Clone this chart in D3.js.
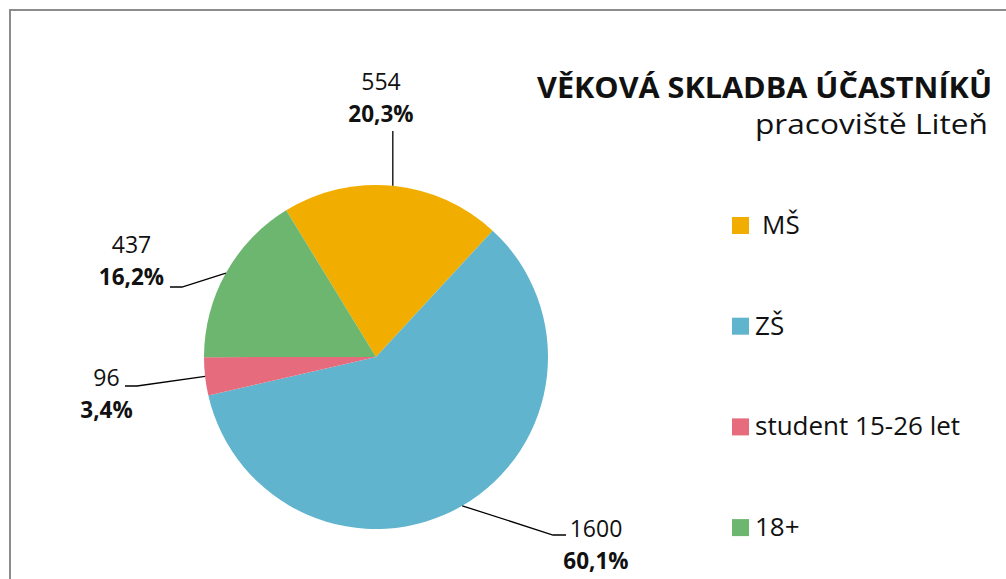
<!DOCTYPE html>
<html>
<head>
<meta charset="utf-8">
<script src="https://cdn.jsdelivr.net/npm/d3@7"></script>
<style>
  body { margin: 0; background: #fff; }
  svg { display: block; font-family: 'Open Sans', sans-serif; }
</style>
</head>
<body>
<div id="chart"></div>
<script>
// data
var categories = ['MŠ', 'ZŠ', 'student 15-26 let', '18+']
var counts = [554, 1600, 96, 437]
var percentLabels = ['20,3%', '60,1%', '3,4%', '16,2%']
var colors = ['#f2ae00', '#61b4cd', '#e56b7d', '#6cb66f']

var w = 1006, h = 579
var cx = 376, cy = 357, radius = 172

// label position (centre x, first baseline) + leader elbow/end, relative to pie centre
var labelLayout = [
  { x: 5, y: -267, elbow: null, end: [16, -226] },
  { x: 220, y: 180, elbow: [177, 178], end: [190, 178] },
  { x: -269.5, y: 29, elbow: [-239, 29], end: [-251, 29] },
  { x: -244.5, y: -104, elbow: [-194, -70], end: [-206, -70] }
]

var svg = d3.select('#chart').append('svg')
  .attr('width', w)
  .attr('height', h)

svg.append('rect')
  .attr('x', 10).attr('y', 10)
  .attr('width', 1200).attr('height', 800)
  .attr('fill', 'none')
  .attr('stroke', '#8c8c8c')
  .attr('stroke-width', 2)

var g = svg.append('g')
  .attr('transform', 'translate(' + cx + ',' + cy + ')')

var startA = -31.5 * Math.PI / 180
var pie = d3.pie()
  .sort(null)
  .startAngle(startA)
  .endAngle(startA + 2 * Math.PI)
  .value(function(d) { return d })

var arcs = pie(counts)

var arc = d3.arc().innerRadius(0).outerRadius(radius)

g.selectAll('.slice')
  .data(arcs)
  .enter().append('path')
  .attr('class', 'slice')
  .attr('d', arc)
  .attr('fill', function(d, i) { return colors[i] })

// leader lines
function edgePoint(d) {
  var a = (d.startAngle + d.endAngle) / 2
  return [Math.sin(a) * radius, -Math.cos(a) * radius]
}

g.selectAll('.leader')
  .data(arcs)
  .enter().append('polyline')
  .attr('class', 'leader')
  .attr('fill', 'none')
  .attr('stroke', '#000')
  .attr('stroke-width', 1.3)
  .attr('points', function(d, i) {
    var p = edgePoint(d)
    var L = labelLayout[i]
    if (!L.elbow) return [p, [p[0], L.end[1]]].join(' ')
    return [p, L.elbow, L.end].join(' ')
  })

var labels = g.selectAll('.lbl')
  .data(arcs)
  .enter().append('text')
  .attr('class', 'lbl')
  .attr('text-anchor', 'middle')
  .attr('font-size', 23)
  .attr('fill', '#111')

labels.append('tspan')
  .attr('x', function(d, i) { return labelLayout[i].x })
  .attr('y', function(d, i) { return labelLayout[i].y })
  .text(function(d, i) { return counts[i] })

labels.append('tspan')
  .attr('x', function(d, i) { return labelLayout[i].x })
  .attr('y', function(d, i) { return labelLayout[i].y + 32 })
  .attr('font-weight', 'bold')
  .attr('font-size', 22.5)
  .text(function(d, i) { return percentLabels[i] })

// title
svg.append('text')
  .attr('x', 537).attr('y', 98)
  .attr('font-size', 29)
  .attr('font-weight', 'bold')
  .attr('fill', '#111')
  .attr('textLength', 455)
  .attr('lengthAdjust', 'spacingAndGlyphs')
  .text('VĚKOVÁ SKLADBA ÚČASTNÍKŮ')

svg.append('text')
  .attr('x', 755).attr('y', 134)
  .attr('font-size', 28)
  .attr('fill', '#111')
  .attr('textLength', 233)
  .attr('lengthAdjust', 'spacingAndGlyphs')
  .text('pracoviště Liteň')

// legend
var legend = svg.selectAll('.legend')
  .data(categories)
  .enter().append('g')
  .attr('class', 'legend')
  .attr('transform', function(d, i) { return 'translate(732,' + (217 + i * 100.7) + ')' })

legend.append('rect')
  .attr('width', 17).attr('height', 17)
  .attr('fill', function(d, i) { return colors[i] })

legend.append('text')
  .attr('x', function(d, i) { return i === 0 ? 30 : 23 })
  .attr('y', 17)
  .attr('font-size', 26)
  .attr('fill', '#111')
  .text(function(d) { return d })
</script>
</body>
</html>
